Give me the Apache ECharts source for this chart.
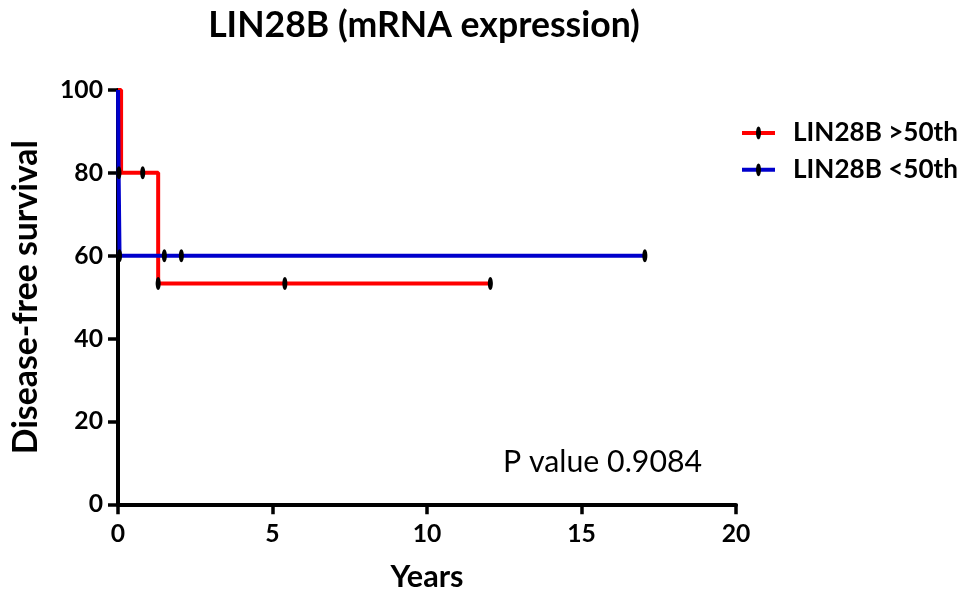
<!DOCTYPE html>
<html>
<head>
<meta charset="utf-8">
<script src="https://cdn.jsdelivr.net/npm/echarts@6/dist/echarts.min.js"></script>
<style>html,body{margin:0;padding:0;background:#fff}#c{width:968px;height:598px}</style>
</head>
<body>
<div id="c"></div>
<script>
var titleText = 'LIN28B (mRNA expression)';
var xName = 'Years';
var yName = 'Disease-free survival';
var pValueText = 'P value 0.9084';
var xTicks = [0, 5, 10, 15, 20];
var yTicks = [0, 20, 40, 60, 80, 100];

var redName = 'LIN28B >50th';
var redTimes     = [0, 0.1, 0.8, 1.3, 5.4, 12.05];
var redSurvival  = [100, 80, 80, 53.3, 53.3, 53.3];
var redCensored  = [0, 0, 1, 1, 1, 1];

var blueName = 'LIN28B <50th';
var blueTimes    = [0, 0.02, 0.03, 0.05, 1.5, 2.05, 17.05];
var blueSurvival = [100, 80, 80, 60, 60, 60, 60];
var blueCensored = [0, 0, 1, 1, 1, 1, 1];

var FONT = 'Lato';

// font size that makes a text reach a target width (styling helper)
var mctx = document.createElement('canvas').getContext('2d');
function fit(text, weight, target) {
  mctx.font = weight + ' 100px ' + FONT;
  return Math.round(100 * target / mctx.measureText(text).width * 10) / 10;
}
var titleSize  = fit(titleText, 'bold', 432);
var legendSize = fit(redName, 'bold', 165);
var pSize      = fit(pValueText, 'normal', 199);
var xNameSize  = fit(xName, 'bold', 73);
var yNameSize  = fit(yName, 'bold', 314);
var tickSize   = fit('100', 'bold', 43);

// censor tick: a narrow rounded bar centred in a square box
var CENSOR = 'path://M0,0 M13,13 M6.5,0 C7.9,0 9,2.9 9,6.5 C9,10.1 7.9,13 6.5,13 C5.1,13 4,10.1 4,6.5 C4,2.9 5.1,0 6.5,0 Z';

function buildData(t, s, c) {
  return t.map(function (x, i) {
    return { value: [x, s[i]], symbol: c[i] ? CENSOR : 'none' };
  });
}

function kmSeries(name, color, t, s, c, z) {
  return {
    name: name,
    type: 'line',
    step: 'end',
    data: buildData(t, s, c),
    symbol: CENSOR,
    symbolSize: 13,
    showAllSymbol: true,
    itemStyle: { color: '#000' },
    lineStyle: { color: color, width: 4 },
    emphasis: { disabled: true },
    z: z,
    animation: false
  };
}

var chart = echarts.init(document.getElementById('c'), null, { renderer: 'canvas' });
chart.setOption({
  backgroundColor: '#fff',
  animation: false,
  title: {
    text: titleText,
    left: 424,
    textAlign: 'center',
    top: 25 - titleSize / 2,
    padding: 0,
    textStyle: { fontFamily: FONT, fontWeight: 'bold', fontSize: titleSize, color: '#000' }
  },
  legend: {
    orient: 'vertical',
    left: 740,
    top: 133 - legendSize / 2,
    padding: 0,
    itemWidth: 33,
    itemHeight: 16,
    itemGap: 37 - legendSize,
    lineStyle: { width: 4 },
    data: [redName, blueName],
    textStyle: { fontFamily: FONT, fontWeight: 'bold', fontSize: legendSize, color: '#000', padding: [0, 0, 0, 13] }
  },
  grid: { left: 118, right: 232, top: 90, bottom: 93 },
  xAxis: {
    type: 'value',
    min: xTicks[0],
    max: xTicks[xTicks.length - 1],
    interval: 5,
    name: xName,
    nameLocation: 'middle',
    nameGap: 73 - xNameSize / 2,
    nameTextStyle: { fontFamily: FONT, fontWeight: 'bold', fontSize: xNameSize, color: '#000' },
    axisLine: { lineStyle: { color: '#000', width: 4 } },
    axisTick: { lineStyle: { color: '#000', width: 3.5 }, length: 10 },
    axisLabel: { fontFamily: FONT, fontWeight: 'bold', fontSize: tickSize, color: '#000', margin: 30 - tickSize / 2 },
    splitLine: { show: false }
  },
  yAxis: {
    type: 'value',
    min: yTicks[0],
    max: yTicks[yTicks.length - 1],
    interval: 20,
    name: yName,
    nameLocation: 'middle',
    nameGap: 118 - 26.5 - yNameSize / 2,
    nameTextStyle: { fontFamily: FONT, fontWeight: 'bold', fontSize: yNameSize, color: '#000' },
    axisLine: { show: true, lineStyle: { color: '#000', width: 4 } },
    axisTick: { show: true, lineStyle: { color: '#000', width: 3.5 }, length: 10 },
    axisLabel: { fontFamily: FONT, fontWeight: 'bold', fontSize: tickSize, color: '#000', margin: 15 },
    splitLine: { show: false }
  },
  graphic: [{
    type: 'text',
    x: 503,
    y: 462.5,
    style: { text: pValueText, font: 'normal ' + pSize + 'px ' + FONT, fill: '#000', verticalAlign: 'middle', align: 'left' }
  }],
  series: [
    kmSeries(redName, '#ff0000', redTimes, redSurvival, redCensored, 2),
    kmSeries(blueName, '#0000cc', blueTimes, blueSurvival, blueCensored, 3)
  ]
});
</script>
</body>
</html>
